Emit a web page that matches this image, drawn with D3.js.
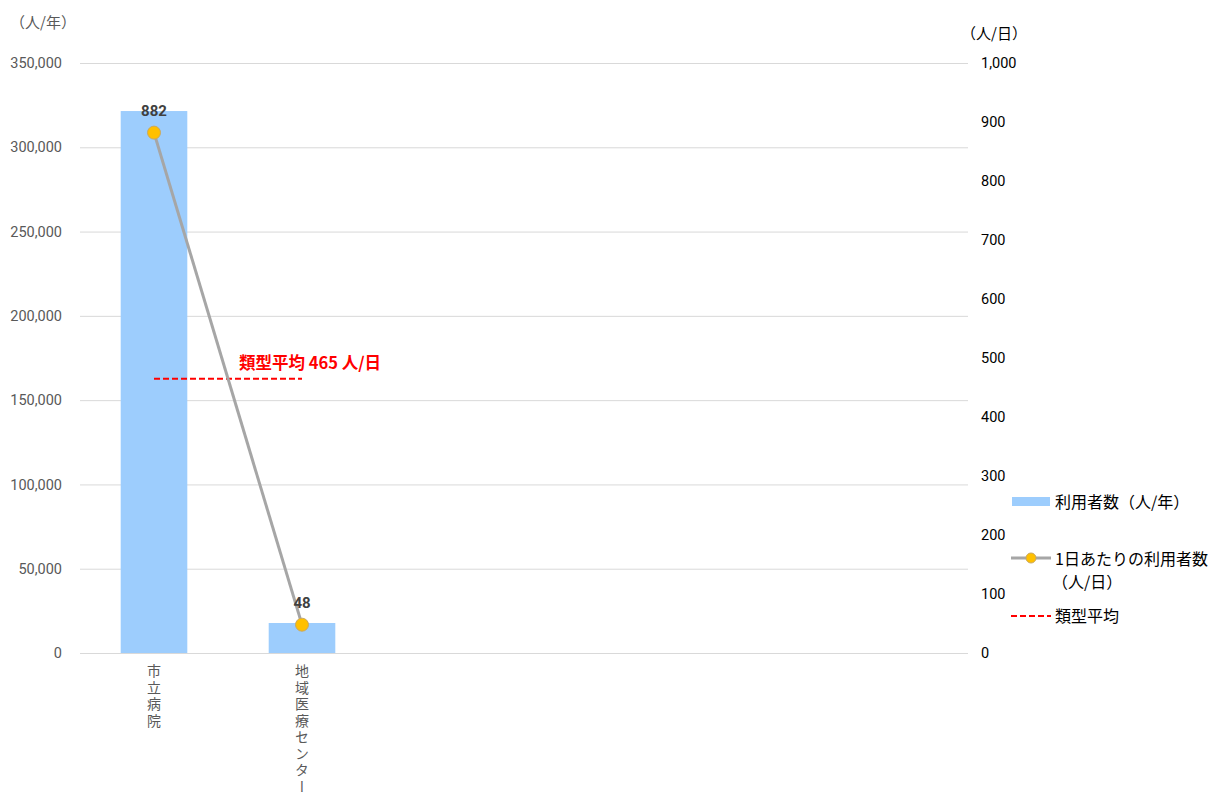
<!DOCTYPE html>
<html><head><meta charset="utf-8">
<script src="https://cdn.jsdelivr.net/npm/d3@7"></script>
<style>body{margin:0;background:#fff;font-family:"Noto Sans CJK JP",Roboto,sans-serif;}</style>
</head><body>
<svg id="c" width="1208" height="792"></svg>
<script>
const categories = ["市立病院","地域医療センター","","","",""];
const annualUsers = [321500, 17800];
const dailyUsers = [882, 48];
const typeAverage = 465;
const leftTicks = [0,50000,100000,150000,200000,250000,300000,350000];
const rightTicks = [0,100,200,300,400,500,600,700,800,900,1000];

const svg = d3.select("#c");
const L=80, R=968, T=63, B=653;
const x = d3.scaleBand().domain(d3.range(categories.length)).range([L,R]).paddingInner(0.55).paddingOuter(0.275);
const yL = d3.scaleLinear().domain([0,350000]).range([B,T]);
const yR = d3.scaleLinear().domain([0,1000]).range([B,T]);
const fmt = d3.format(",");

svg.append("g").selectAll("line").data(leftTicks).join("line")
  .attr("x1",L).attr("x2",R).attr("y1",d=>yL(d)+0.5).attr("y2",d=>yL(d)+0.5)
  .attr("stroke","#d9d9d9").attr("stroke-width",1);

const gl = svg.append("g").attr("transform",`translate(${L-18},0)`)
  .call(d3.axisLeft(yL).tickValues(leftTicks).tickFormat(fmt).tickSize(0).tickPadding(0));
gl.select(".domain").remove();
gl.selectAll("text").attr("fill","#595959").style("font-family","Roboto, sans-serif").style("font-size","14.5px");

const gr = svg.append("g").attr("transform",`translate(${R+13},0)`)
  .call(d3.axisRight(yR).tickValues(rightTicks).tickFormat(fmt).tickSize(0).tickPadding(0));
gr.select(".domain").remove();
gr.selectAll("text").attr("fill","#000").style("font-family","Roboto, sans-serif").style("font-size","14.5px");

svg.append("text").attr("x",10).attr("y",28).text("（人/年）").attr("fill","#595959").style("font-size","15px");
svg.append("text").attr("x",961).attr("y",39).text("（人/日）").attr("fill","#000").style("font-size","15px");

svg.append("g").selectAll("rect").data(annualUsers).join("rect")
  .attr("x",(d,i)=>x(i)).attr("width",x.bandwidth())
  .attr("y",d=>yL(d)).attr("height",d=>B-yL(d)).attr("fill","#9dcdfd");

svg.append("line").attr("x1",L).attr("x2",R).attr("y1",B+0.5).attr("y2",B+0.5).attr("stroke","#d9d9d9");

svg.append("g").selectAll("text").data(categories.filter(c=>c)).join("text")
  .attr("x",(d,i)=>x(i)+x.bandwidth()/2).attr("y",664)
  .style("writing-mode","vertical-rl")
  .style("letter-spacing","2.5px")
  .attr("fill","#595959").style("font-size","14px").text(d=>d);

const cx = i => x(i)+x.bandwidth()/2;
svg.append("line").attr("x1",cx(0)).attr("x2",cx(1)).attr("y1",yR(typeAverage)).attr("y2",yR(typeAverage))
  .attr("stroke","#ff0000").attr("stroke-width",2).attr("stroke-dasharray","6,3");
svg.append("text").attr("x",239).attr("y",369).attr("fill","#ff0000").style("font-weight","bold").style("font-size","16.5px")
  .text(`類型平均 ${typeAverage} 人/日`);

const line = d3.line().x((d,i)=>cx(i)).y(d=>yR(d));
svg.append("path").datum(dailyUsers).attr("d",line).attr("fill","none").attr("stroke","#a6a6a6").attr("stroke-width",3);
svg.append("g").selectAll("circle").data(dailyUsers).join("circle")
  .attr("cx",(d,i)=>cx(i)).attr("cy",d=>yR(d)).attr("r",6.5)
  .attr("fill","#ffc000").attr("stroke","#c9a860").attr("stroke-width",1);
svg.append("g").selectAll("text").data(dailyUsers).join("text")
  .attr("x",(d,i)=>cx(i)).attr("y",d=>yR(d)-17).attr("text-anchor","middle")
  .attr("fill","#404040").style("font-family","Roboto, sans-serif").style("font-weight","bold").style("font-size","15px")
  .text(d=>d);

const lg = svg.append("g");
lg.append("rect").attr("x",1012).attr("y",497).attr("width",38).attr("height",9).attr("fill","#9dcdfd");
lg.append("text").attr("x",1055).attr("y",508).text("利用者数（人/年）").attr("fill","#000").style("font-size","16px");
lg.append("line").attr("x1",1011).attr("x2",1051).attr("y1",558).attr("y2",558).attr("stroke","#a6a6a6").attr("stroke-width",3);
lg.append("circle").attr("cx",1031).attr("cy",558).attr("r",5).attr("fill","#ffc000").attr("stroke","#c9a860");
lg.append("text").attr("x",1055).attr("y",565).text("1日あたりの利用者数").attr("fill","#000").style("font-size","16px");
lg.append("text").attr("x",1052).attr("y",588).text("（人/日）").attr("fill","#000").style("font-size","16px");
lg.append("line").attr("x1",1011).attr("x2",1051).attr("y1",616).attr("y2",616).attr("stroke","#ff0000").attr("stroke-width",2).attr("stroke-dasharray","6,3");
lg.append("text").attr("x",1055).attr("y",622).text("類型平均").attr("fill","#000").style("font-size","16px");
</script>
</body></html>
